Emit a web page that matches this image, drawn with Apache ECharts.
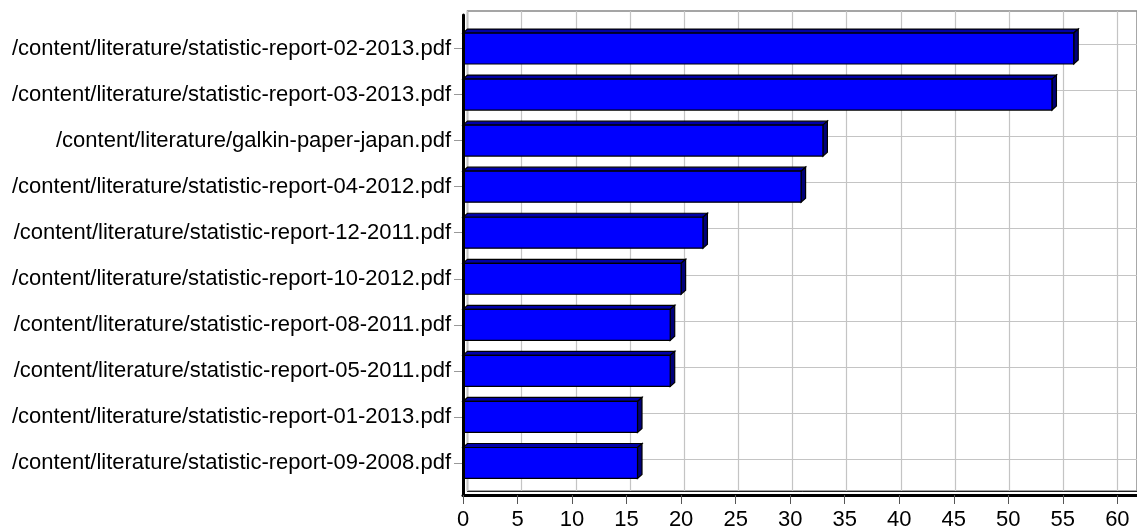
<!DOCTYPE html>
<html>
<head>
<meta charset="utf-8">
<script src="https://cdn.jsdelivr.net/npm/echarts@6/dist/echarts.min.js"></script>
<style>
html,body{margin:0;padding:0;background:#fff;}
#chart{width:1137px;height:531px;}
</style>
</head>
<body>
<div id="chart"></div>
<script>
const categories = [
  "/content/literature/statistic-report-02-2013.pdf",
  "/content/literature/statistic-report-03-2013.pdf",
  "/content/literature/galkin-paper-japan.pdf",
  "/content/literature/statistic-report-04-2012.pdf",
  "/content/literature/statistic-report-12-2011.pdf",
  "/content/literature/statistic-report-10-2012.pdf",
  "/content/literature/statistic-report-08-2011.pdf",
  "/content/literature/statistic-report-05-2011.pdf",
  "/content/literature/statistic-report-01-2013.pdf",
  "/content/literature/statistic-report-09-2008.pdf"
];
const values = [56, 54, 33, 31, 22, 20, 19, 19, 16, 16];
const xMin = 0, xMax = 61.8, xInterval = 5;

const FONT = "'Liberation Sans', Arial, sans-serif";
const DX = 4.5, DY = -4;

const chart = echarts.init(document.getElementById('chart'), null, {renderer: 'canvas'});

function render3DBar(params, api) {
  const v = api.value(0);
  const ci = api.value(1);
  const p0 = api.coord([0, ci]);
  const p1 = api.coord([v, ci]);
  const band = api.size([0, 1])[1];
  const h = band * 0.673;
  const x0 = p0[0], x1 = p1[0];
  const yt = p0[1] - h / 2, yb = p0[1] + h / 2;
  const stroke = {stroke: '#000', lineWidth: 1.2};
  return {
    type: 'group',
    children: [
      {type: 'polygon', shape: {points: [[x0, yt], [x1, yt], [x1 + DX, yt + DY], [x0 + DX, yt + DY]]},
        style: Object.assign({fill: '#0000a8'}, stroke)},
      {type: 'polygon', shape: {points: [[x1, yt], [x1 + DX, yt + DY], [x1 + DX, yb + DY], [x1, yb]]},
        style: Object.assign({fill: '#00007a'}, stroke)},
      {type: 'rect', shape: {x: x0, y: yt, width: x1 - x0, height: h},
        style: Object.assign({fill: '#0000ff'}, stroke)}
    ]
  };
}

const option = {
  backgroundColor: '#fff',
  animation: false,
  grid: [
    {left: 463, right: 0, top: 25.5, height: 460.5},
    {left: 463, right: 0, top: 15, bottom: 36},
    {left: 467.5, right: -4.5, top: 11, bottom: 40, show: true, borderColor: '#888', borderWidth: 1.5, backgroundColor: 'transparent'},
    {left: 467.5, right: -4.5, top: 44.5, bottom: 72}
  ],
  xAxis: [
    {gridIndex: 0, type: 'value', min: xMin, max: xMax, interval: xInterval, show: false},
    {gridIndex: 1, type: 'value', min: xMin, max: xMax, interval: xInterval, z: 10,
      axisLine: {show: true, onZero: false, lineStyle: {color: '#000', width: 3}},
      axisTick: {show: true, length: 9, lineStyle: {color: '#555', width: 1}},
      axisLabel: {show: true, showMaxLabel: false, margin: 14, color: '#000', fontSize: 22, fontFamily: FONT},
      splitLine: {show: false}},
    {gridIndex: 2, type: 'value', min: xMin, max: xMax, interval: xInterval, z: 1,
      axisLine: {show: true, onZero: false, lineStyle: {color: '#222', width: 1}},
      axisTick: {show: false}, axisLabel: {show: false},
      splitLine: {show: true, lineStyle: {color: '#c4c4c4', width: 1.2}}},
    {gridIndex: 3, type: 'value', min: xMin, max: xMax, show: false}
  ],
  yAxis: [
    {gridIndex: 0, type: 'category', data: categories, inverse: true,
      axisLine: {show: false},
      axisTick: {show: true, alignWithLabel: true, length: 9, lineStyle: {color: '#999', width: 1}},
      axisLabel: {show: true, margin: 12, color: '#000', fontSize: 22, fontFamily: FONT},
      splitLine: {show: false}},
    {gridIndex: 1, type: 'value', min: 0, max: 1, z: 10,
      axisLine: {show: true, onZero: false, lineStyle: {color: '#000', width: 3}},
      axisTick: {show: false}, axisLabel: {show: false}, splitLine: {show: false}},
    {gridIndex: 2, type: 'value', min: 0, max: 1, show: false},
    {gridIndex: 3, type: 'category', data: categories, inverse: true, boundaryGap: false, z: 1,
      axisLine: {show: false}, axisTick: {show: false}, axisLabel: {show: false},
      splitLine: {show: true, lineStyle: {color: '#c4c4c4', width: 1.2}}}
  ],
  series: [{
    type: 'custom',
    xAxisIndex: 0,
    yAxisIndex: 0,
    z: 5,
    renderItem: render3DBar,
    encode: {x: 0, y: 1},
    data: values.map((v, i) => [v, i])
  }]
};
chart.setOption(option);
</script>
</body>
</html>
